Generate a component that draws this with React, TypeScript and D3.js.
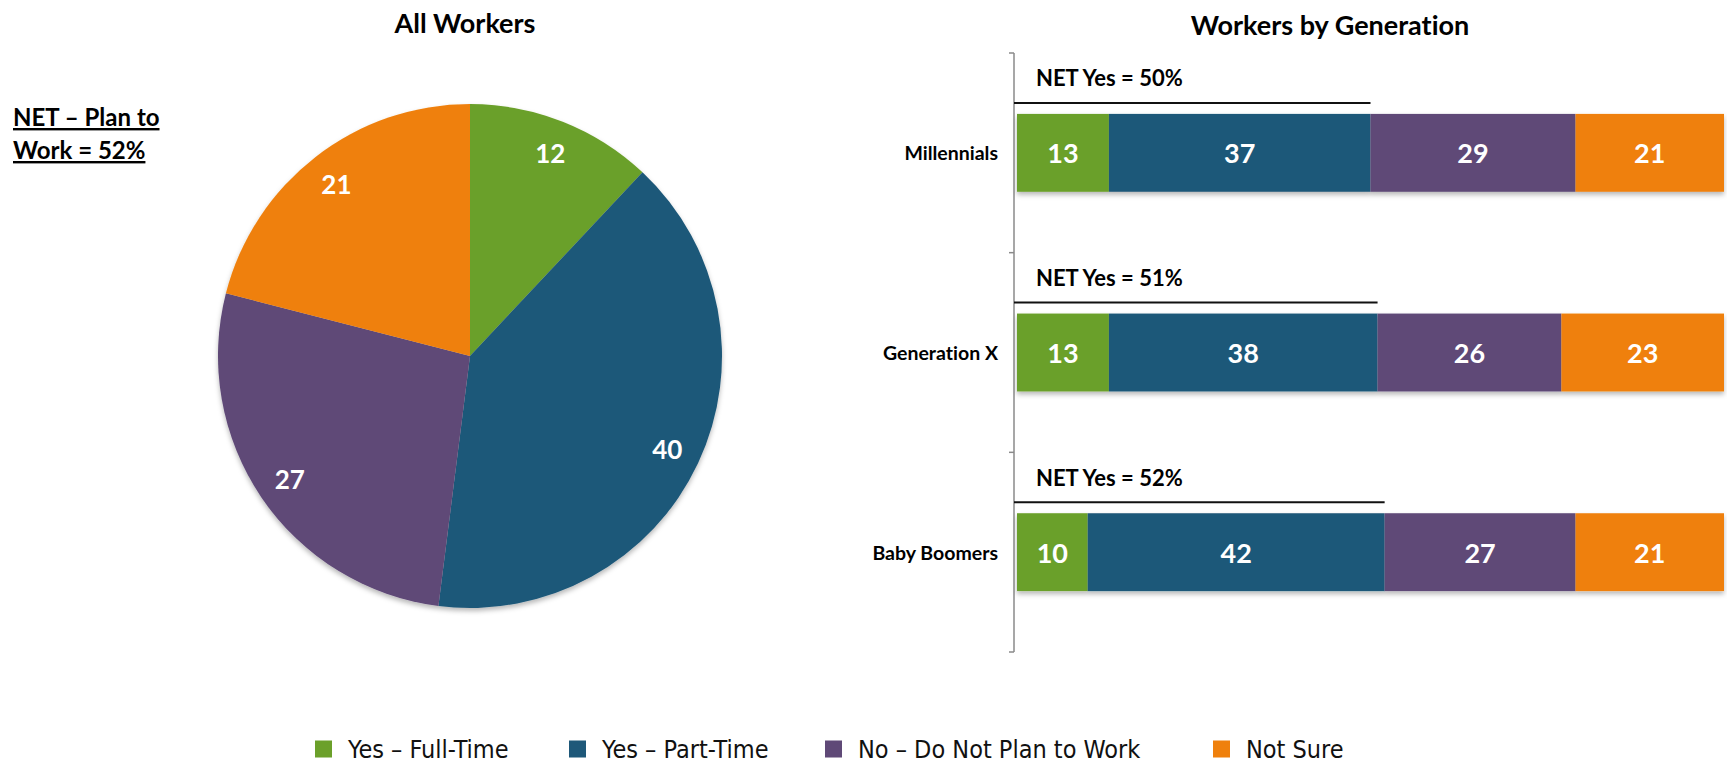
import React from 'react';
import * as d3 from 'd3';

// legend / series names
const categories = ['Yes – Full-Time', 'Yes – Part-Time', 'No – Do Not Plan to Work', 'Not Sure'];
const colors = ['#6ba02a', '#1e5879', '#5f4977', '#ef800c'];

// All Workers (pie)
const allWorkers = [12, 40, 27, 21];
const netPlanToWork = 52;

// Workers by Generation (stacked bars)
const generations = ['Millennials', 'Generation X', 'Baby Boomers'];
const fullTime = [13, 13, 10];
const partTime = [37, 38, 42];
const noPlan = [29, 26, 27];
const notSure = [21, 23, 21];
const netYes = [50, 51, 52];

const W = 1727;
const H = 764;
const FONT = 'Lato, "Open Sans", sans-serif';
const LEGEND_X = [315, 569, 825, 1213];

const App: React.FC = () => {
    // pie
    const cx = 470;
    const cy = 356;
    const R = 252;
    const pie = d3.pie<number>().sort(null).value((d) => d);
    const arcs = pie(allWorkers);
    const arc = d3.arc<d3.PieArcDatum<number>>().innerRadius(0).outerRadius(R);
    const labelArc = d3.arc<d3.PieArcDatum<number>>().innerRadius(218).outerRadius(218);

    // bars
    const rows = generations.map((g, i) => ({
        gen: g,
        k0: fullTime[i],
        k1: partTime[i],
        k2: noPlan[i],
        k3: notSure[i],
    }));
    const keys = ['k0', 'k1', 'k2', 'k3'];
    const stack = d3.stack<any>().keys(keys)(rows);
    const x = d3.scaleLinear().domain([0, 100]).range([1017, 1724]);
    const y = d3
        .scaleBand()
        .domain(generations)
        .range([53, 652])
        .paddingInner(0.61)
        .paddingOuter(0.305);
    const axisX = 1014;
    const tickYs = d3.range(generations.length + 1).map((i) => 53 + i * y.step());

    return (
        <svg
            width={W}
            height={H}
            style={{ position: 'absolute', left: 0, top: 0, background: '#fff', fontVariantLigatures: 'none' }}
            fontFamily={FONT}
        >
            <defs>
                <filter id="shadow" x="-10%" y="-10%" width="120%" height="130%">
                    <feDropShadow dx="0" dy="3" stdDeviation="2.5" floodColor="#000" floodOpacity="0.28" />
                </filter>
            </defs>

            {/* titles */}
            <text x={465} y={22} textAnchor="middle" dominantBaseline="central" fontSize={27} fontWeight={700}>
                All Workers
            </text>
            <text x={1330} y={24} textAnchor="middle" dominantBaseline="central" fontSize={27} fontWeight={700}>
                Workers by Generation
            </text>

            {/* NET note */}
            <text x={13} y={126} fontSize={24} fontWeight={700} textDecoration="underline">
                NET – Plan to
            </text>
            <text x={13} y={159} fontSize={24} fontWeight={700} textDecoration="underline">
                {`Work = ${netPlanToWork}%`}
            </text>

            {/* pie */}
            <g transform={`translate(${cx},${cy})`} filter="url(#shadow)">
                {arcs.map((a, i) => (
                    <path key={i} d={arc(a) || ''} fill={colors[i]} />
                ))}
            </g>
            <g transform={`translate(${cx},${cy})`}>
                {arcs.map((a, i) => {
                    const [lx, ly] = labelArc.centroid(a);
                    return (
                        <text
                            key={i}
                            x={lx}
                            y={ly}
                            textAnchor="middle"
                            dominantBaseline="central"
                            fill="#fff"
                            fontSize={26}
                            fontWeight={700}
                        >
                            {a.data}
                        </text>
                    );
                })}
            </g>

            {/* bar axis */}
            <line x1={axisX} x2={axisX} y1={tickYs[0]} y2={tickYs[tickYs.length - 1]} stroke="#8a8a8a" strokeWidth={1.5} />
            {tickYs.map((ty, i) => (
                <line key={i} x1={axisX - 5} x2={axisX} y1={ty} y2={ty} stroke="#8a8a8a" strokeWidth={1.5} />
            ))}

            {/* bars */}
            <g filter="url(#shadow)">
                {stack.map((s, si) =>
                    s.map((d, i) => (
                        <rect
                            key={`${si}-${i}`}
                            x={x(d[0])}
                            y={y(generations[i])}
                            width={x(d[1]) - x(d[0])}
                            height={y.bandwidth()}
                            fill={colors[si]}
                        />
                    )),
                )}
            </g>
            {stack.map((s, si) =>
                s.map((d, i) => (
                    <text
                        key={`t${si}-${i}`}
                        x={(x(d[0]) + x(d[1])) / 2}
                        y={(y(generations[i]) || 0) + y.bandwidth() / 2}
                        textAnchor="middle"
                        dominantBaseline="central"
                        fill="#fff"
                        fontSize={27}
                        fontWeight={700}
                    >
                        {d[1] - d[0]}
                    </text>
                )),
            )}

            {/* row labels */}
            {generations.map((g) => (
                <text
                    key={g}
                    x={998}
                    y={(y(g) || 0) + y.bandwidth() / 2}
                    textAnchor="end"
                    dominantBaseline="central"
                    fontSize={19.5}
                    fontWeight={700}
                >
                    {g}
                </text>
            ))}

            {/* NET Yes annotations */}
            {generations.map((g, i) => {
                const top = y(g) || 0;
                return (
                    <g key={`net${g}`}>
                        <line x1={axisX} x2={x(netYes[i])} y1={top - 11} y2={top - 11} stroke="#111" strokeWidth={2} />
                        <text x={1036} y={top - 36} dominantBaseline="central" fontSize={22} fontWeight={700}>
                            {`NET Yes = ${netYes[i]}%`}
                        </text>
                    </g>
                );
            })}

            {/* legend */}
            {categories.map((c, i) => (
                <g key={c} transform={`translate(${LEGEND_X[i]},749)`}>
                    <rect x={0} y={-8.5} width={17} height={17} fill={colors[i]} />
                    <text
                        x={33}
                        y={0}
                        dominantBaseline="central"
                        fontSize={25}
                        fontFamily='"Liberation Sans Narrow", "DejaVu Sans Condensed", sans-serif'
                        fill="#111"
                    >
                        {c}
                    </text>
                </g>
            ))}
        </svg>
    );
};

export default App;
